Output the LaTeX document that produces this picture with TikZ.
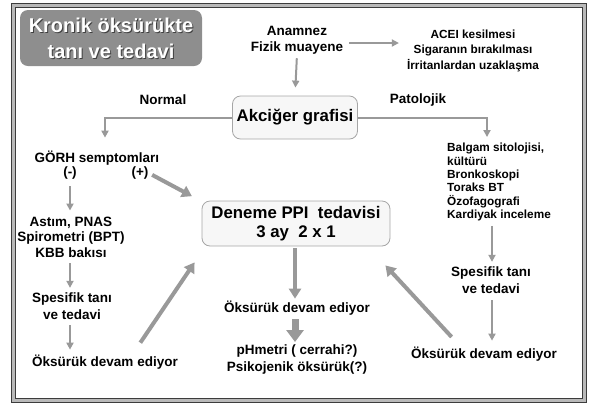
\documentclass[tikz,border=0pt]{standalone}
\usepackage{fontspec}
\setmainfont{Liberation Sans}
\usepackage{tikz}
\usetikzlibrary{positioning,
				arrows.meta,
				calc}
\definecolor{arrgray}{HTML}{999999}
\definecolor{framedark}{HTML}{3C3C3C}
\definecolor{titlegray}{HTML}{8E8E8E}

\begin{document}
\begin{tikzpicture}[x=1pt,y=-1pt,
	txt/.style={font=\bfseries\fontsize{13.5}{16.5}\selectfont, inner sep=0pt, align=center},
	smalltxt/.style={font=\bfseries\fontsize{11.8}{15.5}\selectfont, inner sep=0pt, align=center},
	bigtxt/.style={font=\bfseries\fontsize{16.8}{19}\selectfont, align=center},
	roundbox/.style={draw=gray!70, fill=gray!6, rounded corners=8pt, line width=0.8pt},
	thinarr/.style={draw=arrgray, line width=2pt, -{Triangle[width=7pt,length=7pt]}},
	thickarr/.style={draw=arrgray, line width=4pt, -{Triangle[width=12pt,length=10pt]}},
	bigarr/.style={draw=arrgray, line width=7pt, -{Triangle[width=17pt,length=12pt]}}]
	\useasboundingbox (0,0) rectangle (589,408);
	% frame
	\draw[draw=framedark, double=gray!55, double distance=2.5pt, line width=1.4pt] (13.5,5.5) rectangle (584.5,400.5);
	% title
	\fill[titlegray, rounded corners=8pt] (20,10) rectangle (202,66);
	\node[font=\bfseries\fontsize{20}{26}\selectfont, align=center, inner sep=0pt, black!75] at (112,39) {Kronik öksürükte\\tanı ve tedavi};
	\node[font=\bfseries\fontsize{20}{26}\selectfont, align=center, inner sep=0pt, white] (title) at (111,38) {Kronik öksürükte\\tanı ve tedavi};
	% top
	\node[txt, font=\bfseries\fontsize{13.5}{16}\selectfont] (anam) at (297,40) {Anamnez\\Fizik muayene};
	\node[smalltxt] (acei) at (473,50.5) {ACEI kesilmesi\\Sigaranın bırakılması\\İrritanlardan uzaklaşma};
	\node[roundbox, bigtxt, minimum width=125pt, minimum height=43pt] (akc) at (295,117.5) {Akciğer grafisi};
	\node[txt] (normal) at (163,100) {Normal};
	\node[txt] (patol) at (418,100) {Patolojik};
	% left branch
	\node[txt] (gorh) at (97,158) {GÖRH semptomları};
	\node[txt] (minus) at (70,173) {(-)};
	\node[txt] (plus) at (140,173) {(+)};
	\node[txt, font=\bfseries\fontsize{13.5}{15.5}\selectfont] (astim) at (71,237) {Astım, PNAS\\Spirometri (BPT)\\KBB bakısı};
	\node[txt, font=\bfseries\fontsize{13.5}{17}\selectfont] (spesL) at (72,306.5) {Spesifik tanı\\ve tedavi};
	\node[txt] (oksL) at (105,362) {Öksürük devam ediyor};
	% middle
	\node[roundbox, bigtxt, minimum width=188pt, minimum height=45pt] (deneme) at (296,223.5) {Deneme PPI\ \ tedavisi\\3 ay\ \ 2 x 1};
	\node[txt] (oksM) at (297,308) {Öksürük devam ediyor};
	\node[txt, font=\bfseries\fontsize{13.5}{17}\selectfont] (phm) at (297,360) {pHmetri ( cerrahi?)\\Psikojenik öksürük(?)};
	% right branch
	\node[smalltxt, font=\bfseries\fontsize{11.8}{13.3}\selectfont, align=left, anchor=west] (balgam) at (447,182) {Balgam sitolojisi,\\kültürü\\Bronkoskopi\\Toraks BT\\Özofagografi\\Kardiyak inceleme};
	\node[txt, font=\bfseries\fontsize{13.5}{17}\selectfont] (spesR) at (491,280.5) {Spesifik tanı\\ve tedavi};
	\node[txt] (oksR) at (484,354) {Öksürük devam ediyor};
	% connectors
	\draw[thinarr, shorten <=6pt, shorten >=8pt] (anam.east |- 0,43) -- (acei.west |- 0,43);
	\draw[thinarr, shorten <=4pt, shorten >=8pt] (anam.south) -- (akc.north);
	\draw[thinarr, shorten >=13pt] (akc.west) -| ([xshift=8pt]gorh.north);
	\draw[thinarr, shorten >=6pt] (akc.east) -| ([xshift=40pt]balgam.north west);
	\draw[thinarr, shorten <=7pt, shorten >=6pt] (minus.south) -- (astim.north -| minus.south);
	\draw[thickarr, shorten <=4pt, shorten >=3pt] (plus.east) -- ($(deneme.north west)+(-7,-3)$);
	\draw[thinarr, shorten <=6pt, shorten >=5pt] (astim.south -| minus.south) -- (spesL.north -| minus.south);
	\draw[thinarr, shorten <=5pt, shorten >=5pt] (spesL.south -| minus.south) -- (oksL.north -| minus.south);
	\draw[thickarr, shorten <=6pt] ($(oksL.north)+(32,-7)$) -- ($(deneme.south west)+(-7,16)$);
	\draw[thickarr, shorten <=2pt, shorten >=2pt] (deneme.south -| oksM.north) ++(-2,0) -- ($(oksM.north)+(-2,0)$);
	\draw[bigarr, shorten <=4pt, shorten >=3pt] ($(oksM.south)+(-2,0)$) -- ($(phm.north)+(-2,0)$);
	\draw[thinarr, shorten <=5pt, shorten >=5pt] ([xshift=45pt]balgam.south west) -- ([xshift=45pt]balgam.south west |- spesR.north);
	\draw[thinarr, shorten <=6pt, shorten >=6pt] ([xshift=1pt]spesR.south) -- ([xshift=1pt]spesR.south |- oksR.north);
	\draw[thickarr, shorten <=5pt] ($(oksR.north)+(-29,-6)$) -- ($(deneme.south east)+(-5,19)$);
\end{tikzpicture}
\end{document}
